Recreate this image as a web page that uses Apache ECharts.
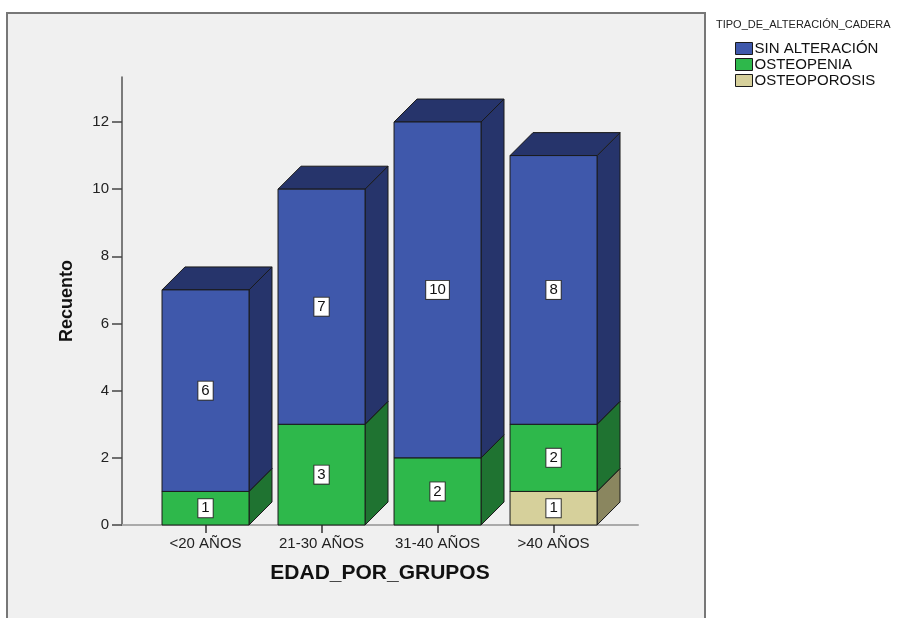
<!DOCTYPE html>
<html>
<head>
<meta charset="utf-8">
<script src="https://cdn.jsdelivr.net/npm/echarts@6/dist/echarts.min.js"></script>
<style>
  html, body { margin: 0; padding: 0; background: #ffffff; }
  #chart { width: 905px; height: 618px; }
</style>
</head>
<body>
<div id="chart"></div>
<script>
// Age groups on the horizontal axis
const categories = ['<20 AÑOS', '21-30 AÑOS', '31-40 AÑOS', '>40 AÑOS'];

// Counts per hip-alteration type, one value per age group
const sinAlteracion = [6, 7, 10, 8];
const osteopenia    = [1, 3, 2, 2];
const osteoporosis  = [0, 0, 0, 1];

// Y-axis tick labels
const yTicks = [0, 2, 4, 6, 8, 10, 12];

// Stack order, bottom to top, with front / side colours
const stackSeries = [
  { name: 'OSTEOPOROSIS',   values: osteoporosis,  front: '#d6d09b', side: '#8a865f' },
  { name: 'OSTEOPENIA',     values: osteopenia,    front: '#2eb84b', side: '#1f7331' },
  { name: 'SIN ALTERACIÓN', values: sinAlteracion, front: '#3f58ab', side: '#26346b' }
];

const BAR_RATIO = 0.75;    // front face width as share of category spacing
const DEPTH_RATIO = 0.198; // 3D depth offset as share of category spacing
const FONT = '"Liberation Sans", Arial, sans-serif';

// Build stacked segments [categoryIndex, base, top, value]
const running = categories.map(() => 0);
const series = stackSeries.map(function (s) {
  const data = [];
  s.values.forEach(function (v, i) {
    if (v > 0) {
      data.push([i, running[i], running[i] + v, v]);
    }
    running[i] += v;
  });
  return {
    name: s.name,
    type: 'custom',
    itemStyle: { color: s.front, borderColor: '#1a1a1a', borderWidth: 1 },
    encode: { x: 0, y: [1, 2] },
    data: data,
    renderItem: function (params, api) {
      const cat = api.value(0);
      const base = api.value(1);
      const top = api.value(2);
      const val = api.value(3);
      const pTop = api.coord([cat, top]);
      const pBase = api.coord([cat, base]);
      const band = api.size([1, 0])[0];
      const w = band * BAR_RATIO;
      const d = band * DEPTH_RATIO;
      const x0 = pTop[0] - w / 2;
      const x1 = pTop[0] + w / 2;
      const yT = pTop[1];
      const yB = pBase[1];
      const edge = { stroke: '#1a1a1a', lineWidth: 1 };
      return {
        type: 'group',
        children: [
          {
            type: 'polygon',
            shape: { points: [[x1, yB], [x1 + d, yB - d], [x1 + d, yT - d], [x1, yT]] },
            style: Object.assign({ fill: s.side }, edge)
          },
          {
            type: 'polygon',
            shape: { points: [[x0, yT], [x0 + d, yT - d], [x1 + d, yT - d], [x1, yT]] },
            style: Object.assign({ fill: s.side }, edge)
          },
          {
            type: 'rect',
            shape: { x: x0, y: yT, width: w, height: yB - yT },
            style: Object.assign({ fill: s.front }, edge)
          },
          {
            type: 'text',
            style: {
              text: String(val),
              x: (x0 + x1) / 2,
              y: (yT + yB) / 2,
              align: 'center',
              verticalAlign: 'middle',
              fontFamily: FONT,
              fontSize: 15,
              fill: '#111',
              backgroundColor: '#ffffff',
              borderColor: '#333',
              borderWidth: 1,
              padding: [2, 3, 1, 3]
            }
          }
        ]
      };
    }
  };
});

const chart = echarts.init(document.getElementById('chart'), null, { renderer: 'canvas' });

chart.setOption({
  animation: false,
  backgroundColor: '#ffffff',
  graphic: [
    {
      type: 'rect',
      z: -10,
      shape: { x: 7, y: 13, width: 698, height: 620 },
      style: { fill: '#f0f0f0', stroke: '#777', lineWidth: 2 }
    }
  ],
  title: {
    text: 'TIPO_DE_ALTERACIÓN_CADERA',
    left: 716,
    top: 19,
    padding: 0,
    textStyle: { fontFamily: FONT, fontSize: 11, fontWeight: 'normal', color: '#222' }
  },
  legend: {
    data: ['SIN ALTERACIÓN', 'OSTEOPENIA', 'OSTEOPOROSIS'],
    orient: 'vertical',
    left: 735,
    top: 41,
    padding: 0,
    itemWidth: 17,
    itemHeight: 12,
    itemGap: 1,
    icon: 'rect',
    selectedMode: false,
    itemStyle: { borderColor: '#1a1a1a', borderWidth: 1 },
    textStyle: { fontFamily: FONT, fontSize: 15, color: '#111', padding: [0, 0, 0, -3], lineHeight: 15 }
  },
  grid: { left: 122, right: 267, top: 77, bottom: 93 },
  xAxis: {
    type: 'value',
    min: -0.72,
    max: 3.728,
    name: 'EDAD_POR_GRUPOS',
    nameLocation: 'middle',
    nameGap: 38,
    nameTextStyle: { fontFamily: FONT, fontSize: 21, fontWeight: 'bold', color: '#111' },
    splitLine: { show: false },
    axisLine: { show: true, onZero: false, lineStyle: { color: '#aaaaaa', width: 2 } },
    axisTick: {
      show: true,
      length: 8,
      customValues: [0, 1, 2, 3],
      lineStyle: { color: '#333', width: 1.5 }
    },
    axisLabel: {
      customValues: [0, 1, 2, 3],
      margin: 11,
      fontFamily: FONT,
      fontSize: 15,
      color: '#222',
      formatter: function (v) { return categories[Math.round(v)] || ''; }
    }
  },
  yAxis: {
    type: 'value',
    min: 0,
    max: 13.34,
    name: 'Recuento',
    nameLocation: 'middle',
    nameGap: 46,
    nameTextStyle: { fontFamily: FONT, fontSize: 18, fontWeight: 'bold', color: '#111' },
    splitLine: { show: false },
    axisLine: { show: true, onZero: false, lineStyle: { color: '#555', width: 1.5 } },
    axisTick: {
      show: true,
      length: 10,
      customValues: yTicks,
      lineStyle: { color: '#444', width: 1.5 }
    },
    axisLabel: {
      customValues: yTicks,
      margin: 13,
      fontFamily: FONT,
      fontSize: 15,
      color: '#222'
    }
  },
  series: series
});
</script>
</body>
</html>
